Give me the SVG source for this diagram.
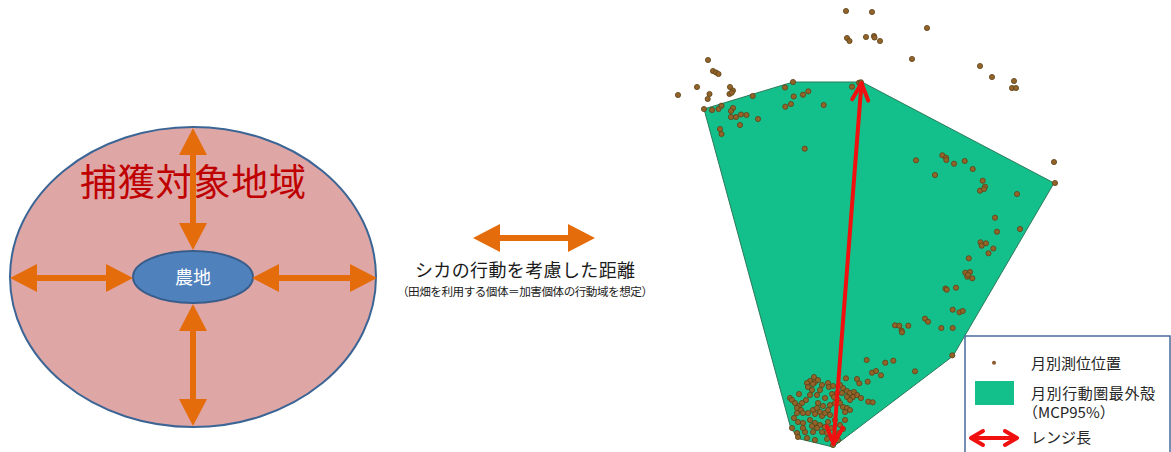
<svg xmlns="http://www.w3.org/2000/svg" width="1171" height="452" viewBox="0 0 1171 452">
<style>
.jp{font-family:"Noto Sans CJK JP","Noto Sans",sans-serif}
.oarrow{stroke:#e46c0a;stroke-width:6;fill:none;marker-start:url(#oh);marker-end:url(#oh)}
.fix circle{fill:#93632a;stroke:#5c4216;stroke-width:0.8}
.leg{font-size:15px;fill:#262626}
</style>
<defs>
<marker id="oh" markerUnits="userSpaceOnUse" markerWidth="28" markerHeight="28" viewBox="0 0 27 28" refX="7" refY="14" orient="auto-start-reverse">
<path d="M0,0 L27,14 L0,28 Z" fill="#e46c0a"/>
</marker>
<marker id="rh" markerUnits="userSpaceOnUse" markerWidth="24" markerHeight="24" viewBox="-20 -12 24 24" refX="0" refY="0" orient="auto-start-reverse">
<path d="M-17,-8 L0,0 L-17,8" fill="none" stroke="#f01010" stroke-width="4" stroke-linecap="round" stroke-linejoin="round"/>
</marker>
<marker id="rh2" markerUnits="userSpaceOnUse" markerWidth="24" markerHeight="24" viewBox="-20 -12 24 24" refX="0" refY="0" orient="auto-start-reverse">
<path d="M-12,-7 L0,0 L-12,7" fill="none" stroke="#f01010" stroke-width="4" stroke-linecap="round" stroke-linejoin="round"/>
</marker>
</defs>
<rect width="1171" height="452" fill="#ffffff"/>

<g id="capture-area">
<ellipse cx="193" cy="277" rx="183" ry="150" fill="#dfa6a6" stroke="#3b6595" stroke-width="2"/>
<text class="jp" x="193" y="196" font-size="37" fill="#c00000" text-anchor="middle" textLength="226" lengthAdjust="spacing">捕獲対象地域</text>
</g>

<g id="farmland">
<ellipse cx="193" cy="277" rx="60" ry="26" fill="#4f81bd" stroke="#385d8a" stroke-width="2"/>
<text class="jp" x="193" y="284" font-size="18" fill="#ffffff" text-anchor="middle">農地</text>
</g>

<g id="distance-legend">
<line class="oarrow" x1="493" y1="238" x2="575" y2="238"/>
<text class="jp" x="525" y="277" font-size="18" fill="#1a1a1a" text-anchor="middle" textLength="220" lengthAdjust="spacing">シカの行動を考慮した距離</text>
<text class="jp" x="525" y="296" font-size="11.6" fill="#1a1a1a" text-anchor="middle" textLength="256" lengthAdjust="spacing">（田畑を利用する個体＝加害個体の行動域を想定）</text>
</g>

<g id="connectors">
<line class="oarrow" x1="193" y1="148" x2="193" y2="230"/>
<line class="oarrow" x1="193" y1="324" x2="193" y2="406"/>
<line class="oarrow" x1="30" y1="278" x2="113" y2="278"/>
<line class="oarrow" x1="272" y1="278" x2="357" y2="278"/>
</g>

<g id="home-range-map">
<polygon points="704,109 793,82 862,82 1054,183 953,356 833,447 800,439 791,429" fill="#13c08b" stroke="#2b7a5a" stroke-width="1"/>
<g class="fix">
<circle cx="846" cy="11" r="2.6"/><circle cx="872" cy="12" r="2.6"/><circle cx="927" cy="28" r="2.6"/>
<circle cx="847" cy="38" r="2.6"/><circle cx="849.5" cy="41" r="2.6"/><circle cx="866" cy="37" r="2.6"/>
<circle cx="874" cy="36" r="2.6"/><circle cx="874.5" cy="37.5" r="2.6"/><circle cx="880" cy="41" r="2.6"/>
<circle cx="912" cy="59" r="2.6"/><circle cx="980" cy="66" r="2.6"/><circle cx="992" cy="77" r="2.6"/>
<circle cx="1014" cy="81" r="2.6"/><circle cx="1012" cy="88" r="2.6"/><circle cx="1016" cy="88" r="2.6"/>
<circle cx="708" cy="60" r="2.6"/><circle cx="713" cy="71" r="2.6"/><circle cx="716" cy="72.5" r="2.6"/>
<circle cx="718.5" cy="74" r="2.6"/><circle cx="697" cy="87" r="2.6"/><circle cx="678" cy="95" r="2.6"/>
<circle cx="709.5" cy="94" r="2.6"/><circle cx="707.7" cy="99" r="2.6"/><circle cx="730" cy="87" r="2.6"/>
<circle cx="733" cy="90.5" r="2.6"/><circle cx="729.5" cy="94" r="2.6"/><circle cx="731.7" cy="92.7" r="2.6"/>
<circle cx="1054" cy="162" r="2.6"/><circle cx="1055" cy="183" r="2.6"/><circle cx="1020" cy="229" r="2.6"/>
<circle cx="704" cy="109" r="2.6"/><circle cx="712" cy="110" r="2.6"/><circle cx="718.5" cy="109" r="2.6"/>
<circle cx="721.5" cy="105.7" r="2.6"/><circle cx="733" cy="108" r="2.6"/><circle cx="731" cy="111" r="2.6"/>
<circle cx="731" cy="117" r="2.6"/><circle cx="736" cy="117" r="2.6"/><circle cx="741" cy="114.5" r="2.6"/>
<circle cx="746.5" cy="115" r="2.6"/><circle cx="758" cy="119" r="2.6"/><circle cx="740" cy="125" r="2.6"/>
<circle cx="720" cy="129" r="2.6"/><circle cx="721.5" cy="134" r="2.6"/><circle cx="752.7" cy="96" r="2.6"/>
<circle cx="785" cy="87.5" r="2.6"/><circle cx="793" cy="82" r="2.6"/><circle cx="793.7" cy="96.5" r="2.6"/>
<circle cx="791" cy="104" r="2.6"/><circle cx="785.3" cy="106.7" r="2.6"/><circle cx="803" cy="94.7" r="2.6"/>
<circle cx="808.3" cy="91.3" r="2.6"/><circle cx="823.7" cy="105" r="2.6"/><circle cx="804.7" cy="148.7" r="2.6"/>
<circle cx="852" cy="86.7" r="2.6"/><circle cx="859" cy="82.7" r="2.6"/><circle cx="861" cy="82.3" r="2.6"/>
<circle cx="916" cy="160.3" r="2.6"/><circle cx="942.3" cy="155.3" r="2.6"/><circle cx="946" cy="157.7" r="2.6"/>
<circle cx="946.3" cy="160" r="2.6"/><circle cx="954" cy="163.7" r="2.6"/><circle cx="964.7" cy="161" r="2.6"/>
<circle cx="972.7" cy="169" r="2.6"/><circle cx="935" cy="175" r="2.6"/><circle cx="982.7" cy="180.7" r="2.6"/>
<circle cx="985" cy="186.7" r="2.6"/><circle cx="980" cy="190.7" r="2.6"/><circle cx="984" cy="189" r="2.6"/>
<circle cx="1017" cy="194" r="2.6"/><circle cx="995" cy="217.7" r="2.6"/><circle cx="997" cy="231.7" r="2.6"/>
<circle cx="980.5" cy="242.3" r="2.6"/><circle cx="981.7" cy="245.7" r="2.6"/><circle cx="986" cy="243.3" r="2.6"/>
<circle cx="993.3" cy="248.5" r="2.6"/><circle cx="988.5" cy="253.3" r="2.6"/><circle cx="968.8" cy="258.3" r="2.6"/>
<circle cx="965.3" cy="272.7" r="2.6"/><circle cx="970" cy="272" r="2.6"/><circle cx="967.3" cy="276.7" r="2.6"/>
<circle cx="972.3" cy="278.3" r="2.6"/><circle cx="968" cy="274.7" r="2.6"/><circle cx="945.5" cy="288.5" r="2.6"/>
<circle cx="946.7" cy="289.7" r="2.6"/><circle cx="956" cy="287.7" r="2.6"/><circle cx="952.7" cy="309.7" r="2.6"/>
<circle cx="959.5" cy="312.3" r="2.6"/><circle cx="962.7" cy="311" r="2.6"/><circle cx="925" cy="318.7" r="2.6"/>
<circle cx="928" cy="321.7" r="2.6"/><circle cx="895" cy="325.3" r="2.6"/><circle cx="899.3" cy="325.7" r="2.6"/>
<circle cx="901.7" cy="330.7" r="2.6"/><circle cx="902" cy="332.3" r="2.6"/><circle cx="908.3" cy="325.7" r="2.6"/>
<circle cx="941.3" cy="328" r="2.6"/><circle cx="952.7" cy="328" r="2.6"/><circle cx="952.3" cy="355.3" r="2.6"/>
<circle cx="866.7" cy="360" r="2.6"/><circle cx="885.3" cy="362.7" r="2.6"/><circle cx="893.3" cy="360.7" r="2.6"/>
<circle cx="915" cy="371.3" r="2.6"/><circle cx="872" cy="372.7" r="2.6"/><circle cx="876" cy="371" r="2.6"/>
<circle cx="881" cy="375.3" r="2.6"/><circle cx="857" cy="379" r="2.6"/><circle cx="867.7" cy="381.7" r="2.6"/>
<circle cx="859.3" cy="383.3" r="2.6"/><circle cx="846" cy="378.3" r="2.6"/><circle cx="868.3" cy="401.7" r="2.6"/>
<circle cx="872.7" cy="402.3" r="2.6"/>
<circle cx="814" cy="377" r="2.6"/><circle cx="810" cy="381" r="2.6"/><circle cx="815" cy="382" r="2.6"/>
<circle cx="818" cy="380" r="2.6"/><circle cx="813" cy="384" r="2.6"/><circle cx="807" cy="383" r="2.6"/>
<circle cx="808" cy="387" r="2.6"/><circle cx="828" cy="383" r="2.6"/><circle cx="829" cy="387" r="2.6"/>
<circle cx="799" cy="394" r="2.6"/><circle cx="790" cy="398" r="2.6"/><circle cx="792" cy="400" r="2.6"/>
<circle cx="843" cy="388" r="2.6"/><circle cx="847" cy="391" r="2.6"/><circle cx="850" cy="393" r="2.6"/>
<circle cx="854" cy="392" r="2.6"/><circle cx="857" cy="395" r="2.6"/><circle cx="853" cy="397" r="2.6"/>
<circle cx="847" cy="397" r="2.6"/><circle cx="842" cy="393" r="2.6"/><circle cx="832" cy="394" r="2.6"/>
<circle cx="834" cy="397" r="2.6"/><circle cx="837" cy="393" r="2.6"/><circle cx="838" cy="400" r="2.6"/>
<circle cx="835" cy="403" r="2.6"/><circle cx="795" cy="403" r="2.6"/><circle cx="799" cy="406" r="2.6"/>
<circle cx="802" cy="403" r="2.6"/><circle cx="797" cy="408" r="2.6"/><circle cx="801" cy="410" r="2.6"/>
<circle cx="803" cy="413" r="2.6"/><circle cx="797" cy="413" r="2.6"/><circle cx="813" cy="410" r="2.6"/>
<circle cx="817" cy="408" r="2.6"/><circle cx="820" cy="412" r="2.6"/><circle cx="815" cy="414" r="2.6"/>
<circle cx="822" cy="416" r="2.6"/><circle cx="825" cy="413" r="2.6"/><circle cx="828" cy="410" r="2.6"/>
<circle cx="830" cy="415" r="2.6"/><circle cx="840" cy="403" r="2.6"/><circle cx="843" cy="407" r="2.6"/>
<circle cx="847" cy="408" r="2.6"/><circle cx="845" cy="412" r="2.6"/><circle cx="850" cy="410" r="2.6"/>
<circle cx="794" cy="418" r="2.6"/><circle cx="798" cy="422" r="2.6"/><circle cx="803" cy="423" r="2.6"/>
<circle cx="810" cy="420" r="2.6"/><circle cx="815" cy="423" r="2.6"/><circle cx="820" cy="425" r="2.6"/>
<circle cx="825" cy="427" r="2.6"/><circle cx="817" cy="428" r="2.6"/><circle cx="822" cy="432" r="2.6"/>
<circle cx="827" cy="433" r="2.6"/><circle cx="813" cy="432" r="2.6"/><circle cx="840" cy="425" r="2.6"/>
<circle cx="843" cy="429" r="2.6"/><circle cx="839" cy="433" r="2.6"/><circle cx="792" cy="428" r="2.6"/>
<circle cx="797" cy="433" r="2.6"/><circle cx="798" cy="437" r="2.6"/><circle cx="805" cy="432" r="2.6"/>
<circle cx="807" cy="438" r="2.6"/><circle cx="815" cy="440" r="2.6"/><circle cx="827" cy="439" r="2.6"/>
<circle cx="838" cy="440" r="2.6"/><circle cx="833" cy="445" r="2.6"/>
<circle cx="820" cy="390" r="2.6"/><circle cx="825" cy="398" r="2.6"/><circle cx="810" cy="395" r="2.6"/>
<circle cx="806" cy="400" r="2.6"/><circle cx="830" cy="405" r="2.6"/><circle cx="835" cy="420" r="2.6"/>
<circle cx="828" cy="422" r="2.6"/><circle cx="818" cy="403" r="2.6"/><circle cx="823" cy="406" r="2.6"/>
<circle cx="808" cy="413" r="2.6"/><circle cx="803" cy="428" r="2.6"/><circle cx="812" cy="426" r="2.6"/>
<circle cx="831" cy="428" r="2.6"/><circle cx="845" cy="420" r="2.6"/><circle cx="850" cy="400" r="2.6"/>
<circle cx="861" cy="398" r="2.6"/><circle cx="817" cy="395" r="2.6"/><circle cx="812" cy="390" r="2.6"/>
<circle cx="833" cy="386" r="2.6"/><circle cx="840" cy="385" r="2.6"/><circle cx="822" cy="385" r="2.6"/>
</g>
<line x1="833.5" y1="444" x2="861.5" y2="83" stroke="#f01010" stroke-width="4" marker-start="url(#rh)" marker-end="url(#rh)"/>
</g>

<g id="map-legend">
<rect x="965" y="336" width="205" height="120" fill="#ffffff" stroke="#4a6a9a" stroke-width="1.5"/>
<circle cx="994" cy="362.7" r="2" fill="#8b5a2b"/>
<text class="jp leg" x="1031" y="369">月別測位位置</text>
<rect x="975" y="381" width="39" height="24" fill="#13c08b"/>
<text class="jp leg" x="1031" y="399" textLength="124" lengthAdjust="spacing">月別行動圏最外殻</text>
<text class="jp leg" x="1023" y="418">（MCP95%）</text>
<line x1="971" y1="438" x2="1017" y2="438" stroke="#f01010" stroke-width="4" marker-start="url(#rh2)" marker-end="url(#rh2)"/>
<text class="jp leg" x="1031" y="443">レンジ長</text>
</g>
</svg>
